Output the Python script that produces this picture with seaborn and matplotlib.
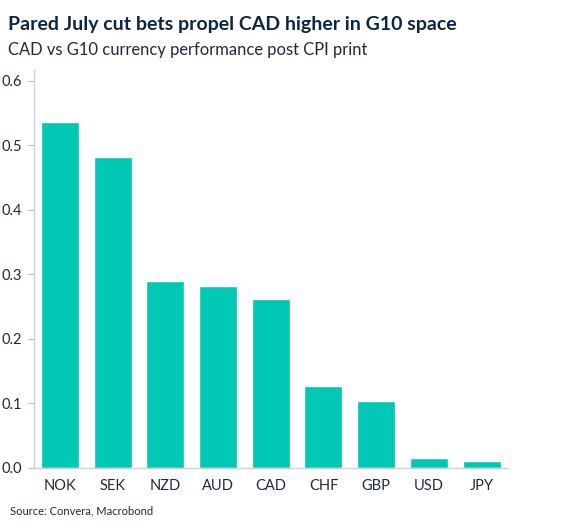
import numpy as np
import pandas as pd
import matplotlib
matplotlib.use("Agg")
import matplotlib.pyplot as plt
import seaborn as sns

currencies = ["NOK", "SEK", "NZD", "AUD", "CAD", "CHF", "GBP", "USD", "JPY"]
performance = [0.536, 0.482, 0.290, 0.281, 0.261, 0.126, 0.103, 0.014, 0.010]
y_ticks = [0.0, 0.1, 0.2, 0.3, 0.4, 0.5, 0.6]

BAR = "#00C8B4"
NAVY = "#0B2545"
TEXT = "#1E2A3A"
GRID = "#D0D0D0"

sns.set_theme(style="white")
plt.rcParams["font.family"] = ["Lato", "DejaVu Sans"]

df = pd.DataFrame({"currency": currencies, "perf": performance})

fig = plt.figure(figsize=(5.66, 5.29), dpi=100)
ax = fig.add_axes([33.5 / 566, 1 - 467.5 / 529, (508 - 33.5) / 566, (467.5 - 70) / 529])

sns.barplot(data=df, x="currency", y="perf", color=BAR, saturation=1,
            width=0.72, ax=ax)

ax.set_xlim(-0.5, len(currencies) - 0.5)
ax.set_ylim(0, 0.617)
ax.set_yticks(y_ticks)
ax.set_yticklabels([f"{v:.1f}" for v in y_ticks])
ax.set_xlabel("")
ax.set_ylabel("")

# ticks between the bars
ax.set_xticks(np.arange(-0.5, len(currencies), 1.0), minor=True)
ax.tick_params(axis="x", which="major", length=0, pad=8, labelsize=10.5, labelcolor=TEXT)
ax.tick_params(axis="x", which="minor", length=4, width=0.8, color="#555555", direction="out")
ax.tick_params(axis="y", length=4, width=0.8, color="#BBBBBB", pad=4, labelsize=10.5,
               labelcolor=TEXT, left=True)

for side in ["top", "right"]:
    ax.spines[side].set_visible(False)
for side in ["left", "bottom"]:
    ax.spines[side].set_color(GRID)
    ax.spines[side].set_linewidth(1)

fig.text(8 / 566, 1 - 30 / 529, "Pared July cut bets propel CAD higher in G10 space",
         fontsize=14, fontweight="bold", color=NAVY, ha="left", va="baseline")
fig.text(8 / 566, 1 - 55 / 529, "CAD vs G10 currency performance post CPI print",
         fontsize=11.9, color=TEXT, ha="left", va="baseline")
fig.text(10 / 566, 1 - 514 / 529, "Source: Convera, Macrobond",
         fontsize=8, color=TEXT, ha="left", va="baseline")

fig.savefig("out.png", dpi=100)
